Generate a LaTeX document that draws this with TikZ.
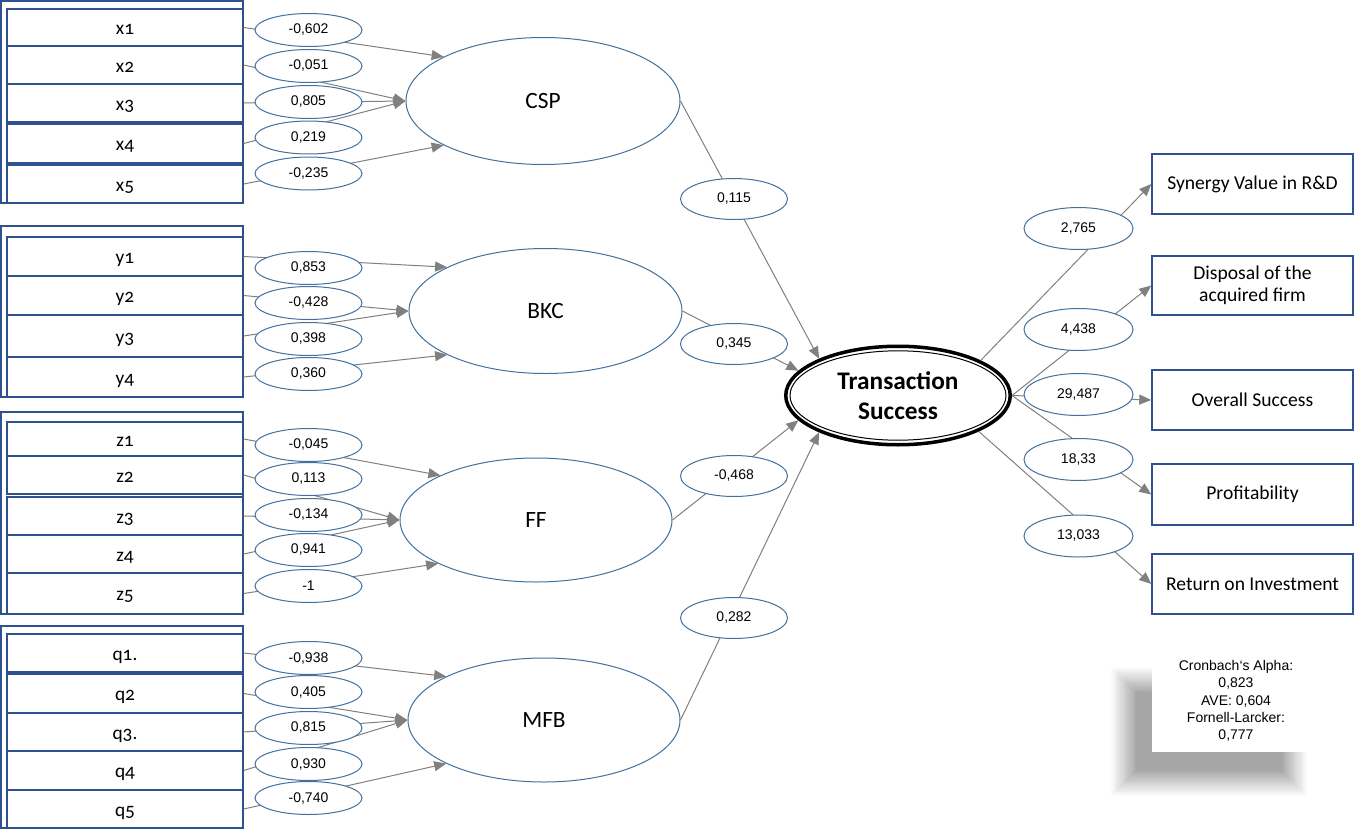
\documentclass[tikz,border=0pt]{standalone}
\usepackage{fontspec}
\setmainfont{Carlito}[Numbers=OldStyle]
\newfontfamily\arialf{Liberation Sans}
\usetikzlibrary{shapes.geometric,arrows.meta}
\definecolor{boxblue}{RGB}{47,82,143}
\definecolor{ellblue}{RGB}{65,113,156}
\definecolor{arrgray}{RGB}{128,128,128}
\newcommand\pu{*0.75pt}
\begin{document}
\begin{tikzpicture}[x=0.75pt,y=-0.75pt,
 ind/.style={draw=boxblue, line width=1.1pt, fill=white, minimum width=236\pu, inner sep=0pt, text height=11pt, text depth=0pt, font=\fontsize{14.5}{16}\selectfont},
 lat/.style={ellipse, draw=ellblue, line width=0.75pt, fill=white, inner sep=0pt, minimum width=273\pu, minimum height=125\pu, font=\fontsize{17.5}{20}\selectfont},
 lab/.style={ellipse, draw=ellblue, line width=0.75pt, fill=white, inner sep=0pt, minimum width=107\pu, minimum height=33\pu, font=\arialf\fontsize{10.5}{12}\selectfont},
 slab/.style={lab, minimum height=41\pu},
 olab/.style={lab, minimum width=109\pu, minimum height=42\pu},
 outb/.style={draw=boxblue, line width=1.1pt, fill=white, minimum width=201\pu, minimum height=60\pu, inner sep=0pt, align=center, font=\fontsize{14.7}{16.5}\selectfont},
 conn/.style={draw=arrgray, line width=0.75pt, -{Triangle[length=9pt,width=7.5pt]}},
 grpframe/.style={draw=boxblue, line width=1.1pt}
]
\useasboundingbox (0,0) rectangle (1354,832);
\fill[white] (0,0) rectangle (1354,832);

% ---------- group frames ----------
\draw[grpframe] (1,1) rectangle (243,203);
\draw[grpframe] (1,226) rectangle (243,397);
\draw[grpframe] (1,412) rectangle (243,614);
\draw[grpframe] (1,626) rectangle (243,828);

% ---------- indicator boxes ----------
\node[ind, minimum height=37\pu] (x1) at (125,27.5) {x1};
\node[ind, minimum height=38\pu] (x2) at (125,65) {x2};
\node[ind, minimum height=38\pu] (x3) at (125,103) {x3};
\node[ind, minimum height=39\pu] (x4) at (125,143.5) {x4};
\node[ind, minimum height=38\pu] (x5) at (125,184) {x5};

\node[ind, minimum height=39\pu] (y1) at (125,256.5) {y1};
\node[ind, minimum height=39\pu] (y2) at (125,295.5) {y2};
\node[ind, minimum height=42\pu] (y3) at (125,336) {y3};
\node[ind, minimum height=40\pu] (y4) at (125,377) {y4};

\node[ind, minimum height=34\pu] (z1) at (125,439) {z1};
\node[ind, minimum height=38\pu] (z2) at (125,475) {z2};
\node[ind, minimum height=38\pu] (z3) at (125,516) {z3};
\node[ind, minimum height=38\pu] (z4) at (125,554) {z4};
\node[ind, minimum height=41\pu] (z5) at (125,593.5) {z5};

\node[ind, minimum height=38\pu] (q1) at (125,653) {q1.};
\node[ind, minimum height=39\pu] (q2) at (125,693.5) {q2};
\node[ind, minimum height=38\pu] (q3) at (125,732) {q3.};
\node[ind, minimum height=39\pu] (q4) at (125,770.5) {q4};
\node[ind, minimum height=38\pu] (q5) at (125,809) {q5};

% ---------- latent variables ----------
\node[lat, minimum width=274\pu, minimum height=127\pu] (CSP) at (543,101) {CSP};
\node[lat] (BKC) at (545.5,311) {BKC};
\node[lat, minimum width=272\pu, minimum height=124\pu] (FF) at (536,520) {FF};
\node[lat, minimum width=272\pu, minimum height=124\pu] (MFB) at (544,720) {MFB};

\node[ellipse, draw=black, line width=3.5\pu, fill=white, minimum width=224.5\pu, minimum height=98.5\pu, inner sep=0pt, align=center, font=\bfseries\fontsize{19}{22.5}\selectfont] (TS) at (898,395.5) {Transaction\\Success};
\draw[black, line width=0.75pt] (TS.center) ellipse [x radius=108\pu, y radius=44.7\pu];

% ---------- outcome boxes ----------
\node[outb] (syn) at (1252.5,184) {Synergy Value in R\&D};
\node[outb, minimum height=59\pu] (disp) at (1252.5,285.5) {Disposal of the\\acquired firm};
\node[outb] (over) at (1252.5,400) {Overall Success};
\node[outb, minimum height=61\pu] (prof) at (1252.5,494.5) {Profitability};
\node[outb] (roi) at (1252.5,584) {Return on Investment};

% ---------- connectors ----------
\draw[conn] (x1.east) -- (CSP.156);
\draw[conn] (x2.east) -- (CSP.west);
\draw[conn] (x3.east) -- (CSP.west);
\draw[conn] (x4.east) -- (CSP.west);
\draw[conn] (x5.east) -- (CSP.204);

\draw[conn] (y1.east) -- (BKC.156);
\draw[conn] (y2.east) -- (BKC.west);
\draw[conn] (y3.east) -- (BKC.west);
\draw[conn] (y4.east) -- (BKC.204);

\draw[conn] (z1.east) -- (FF.155);
\draw[conn] (z2.east) -- (FF.west);
\draw[conn] (z3.east) -- (FF.west);
\draw[conn] (z4.east) -- (FF.west);
\draw[conn] (z5.east) -- (FF.204);

\draw[conn] (q1.east) -- (MFB.156);
\draw[conn] (q2.east) -- (MFB.west);
\draw[conn] (q3.east) -- (MFB.west);
\draw[conn] (q4.east) -- (MFB.west);
\draw[conn] (q5.east) -- (MFB.204);

\draw[conn] (CSP.east) -- (TS.155);
\draw[conn] (BKC.east) -- (TS.166);
\draw[conn] (FF.east) -- (TS.194);
\draw[conn] (MFB.east) -- (TS.205);

\draw[conn] (TS.23.5) -- (syn.west);
\draw[conn] (TS.east) -- (disp.west);
\draw[conn] (TS.east) -- (over.west);
\draw[conn] (TS.east) -- (prof.west);
\draw[conn] (TS.-24) -- (roi.west);

% ---------- coefficient labels ----------
\node[lab] (lx1) at (308.5,30) {-0,602};
\node[lab] (lx2) at (308.5,66) {-0,051};
\node[lab] (lx3) at (308.5,102) {0,805};
\node[lab] (lx4) at (308.5,137.5) {0,219};
\node[lab] (lx5) at (308.5,173.5) {-0,235};

\node[lab] (ly1) at (308.5,268) {0,853};
\node[lab] (ly2) at (308.5,303) {-0,428};
\node[lab] (ly3) at (308.5,339) {0,398};
\node[lab] (ly4) at (308.5,374) {0,360};

\node[lab] (lz1) at (308.5,445) {-0,045};
\node[lab] (lz2) at (308.5,479) {0,113};
\node[lab] (lz3) at (308.5,515) {-0,134};
\node[lab] (lz4) at (308.5,550) {0,941};
\node[lab] (lz5) at (308.5,586) {-1};

\node[lab] (lq1) at (308.5,658) {-0,938};
\node[lab] (lq2) at (308.5,692) {0,405};
\node[lab] (lq3) at (308.5,728) {0,815};
\node[lab] (lq4) at (308.5,764) {0,930};
\node[lab] (lq5) at (308.5,798) {-0,740};

\node[slab] (s1) at (734,199) {0,115};
\node[slab] (s2) at (734,344) {0,345};
\node[slab] (s3) at (734,476) {-0,468};
\node[slab] (s4) at (734,618) {0,282};

\node[olab] (o1) at (1078.5,228.5) {2,765};
\node[olab] (o2) at (1078.5,329.5) {4,438};
\node[olab] (o3) at (1078.5,394.5) {29,487};
\node[olab] (o4) at (1078.5,459.5) {18,33};
\node[olab] (o5) at (1078.5,536) {13,033};

% ---------- quality note with soft shadow ----------
\foreach \i in {0,...,29} {
  \fill[black, opacity=0.013] (1111+0.9*\i, 667+0.9*\i) rectangle (1307-0.9*\i, 796-0.9*\i);
}
\node[fill=white, minimum width=168\pu, minimum height=102\pu, inner sep=0pt, align=center, font=\arialf\fontsize{10.5}{13}\selectfont] (notes) at (1236,701) {Cronbach‘s Alpha:\\0,823\\AVE: 0,604\\Fornell-Larcker:\\0,777};
\end{tikzpicture}
\end{document}
